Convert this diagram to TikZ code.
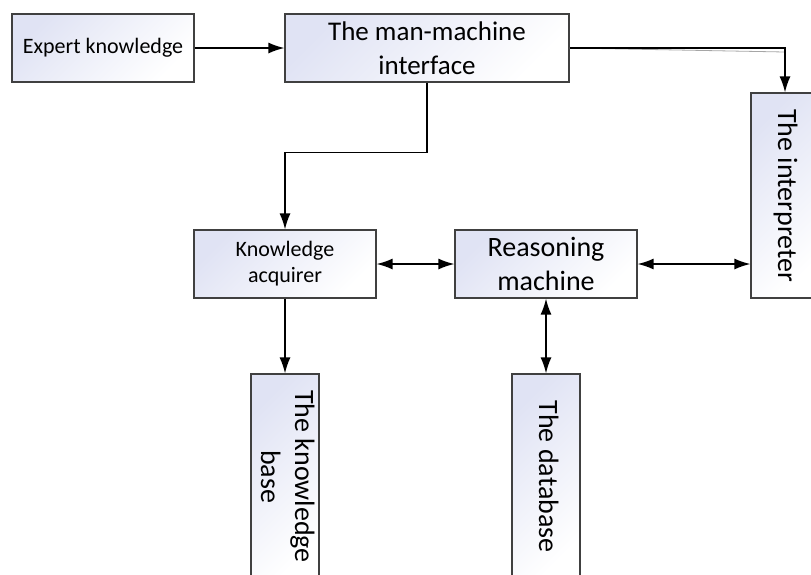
\documentclass[tikz,border=0pt]{standalone}
\usepackage{fontspec}
\setmainfont{Carlito}
\usetikzlibrary{arrows.meta}
\definecolor{boxtint}{RGB}{224,227,244}
\definecolor{boxline}{RGB}{64,64,64}
\newcommand{\vertlabel}[1]{\rotatebox{-90}{\begin{tabular}{@{}c@{}}#1\end{tabular}}}
\tikzstyle{block} = [rectangle, 
draw=boxline, 
line width=1.2pt,
top color=boxtint, 
bottom color=white, 
shading angle=45,
inner sep=0pt,
text centered, 
align=center]
\tikzstyle{smallbox} = [block, 
minimum width=182pt, 
minimum height=68pt, 
font=\fontsize{22}{26}\selectfont]
\tikzstyle{bigbox} = [block, 
minimum width=182pt, 
minimum height=68pt, 
font=\fontsize{28}{34}\selectfont]
\tikzstyle{tallbox} = [block, 
minimum width=68pt, 
minimum height=205pt, 
font=\fontsize{28}{34}\selectfont]
\tikzstyle{arrow} = [line width=1.5pt,-{Latex[length=16pt,width=11pt]}]
\tikzstyle{twoway} = [line width=1.5pt,{Latex[length=16pt,width=11pt]}-{Latex[length=16pt,width=11pt]}]
\tikzstyle{ghost} = [gray!70, line width=0.8pt]

\begin{document}
\begin{tikzpicture}[node distance=214pt]

\useasboundingbox (0,0) rectangle (811pt,-574pt);
\clip (0,0) rectangle (811pt,-574pt);

\node (expert) [smallbox] at (103pt,-48pt) {Expert knowledge};

\node (mmi) [bigbox, minimum width=284pt, right of=expert, xshift=110pt, font=\fontsize{27}{34}\selectfont] {The man-machine\\interface};

\node (acq) [smallbox, below of=mmi, xshift=-142pt, yshift=-2pt] {Knowledge\\acquirer};

\node (reason) [bigbox, right of=acq, xshift=47pt] {Reasoning\\machine};

\node (interp) [tallbox, right of=reason, xshift=25pt, yshift=68.5pt] {\vertlabel{The interpreter}};

\node (kbase) [tallbox, below of=acq, yshift=1.5pt] {\vertlabel{The knowledge\\base}};

\node (db) [tallbox, below of=reason, yshift=1.5pt] {\vertlabel{The database}};

\draw [arrow] (expert) -- (mmi);
\draw [ghost] (mmi.east) -- ++(215pt,-4pt);
\draw [arrow] (mmi.east) -| (interp.north);
\draw [arrow] (mmi.south) -- ++(0,-70pt) -| (acq.north);
\draw [twoway] (acq) -- (reason);
\draw [twoway] (reason.east) -- (reason.east -| interp.west);
\draw [arrow] (acq.south) -- (kbase.north);
\draw [twoway] (reason.south) -- (db.north);

\end{tikzpicture}
\end{document}
